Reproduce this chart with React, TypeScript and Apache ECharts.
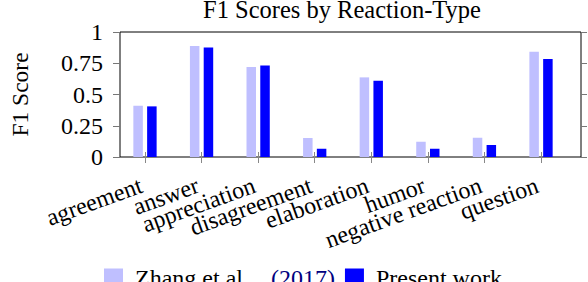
import React, { useEffect, useRef } from "react";
import * as echarts from "echarts";

const categories = [
  "agreement",
  "answer",
  "appreciation",
  "disagreement",
  "elaboration",
  "humor",
  "negative reaction",
  "question",
];
const zhangScores = [0.41, 0.888, 0.72, 0.152, 0.637, 0.122, 0.154, 0.842];
const presentScores = [0.405, 0.877, 0.733, 0.066, 0.61, 0.066, 0.096, 0.784];
const yTicks = [0, 0.25, 0.5, 0.75, 1];

const FONT = "Times New Roman";

export default function App() {
  const ref = useRef<HTMLDivElement>(null);
  useEffect(() => {
    document.body.style.margin = "0";
    if (!ref.current) return;
    const chart = echarts.init(ref.current, null, { renderer: "svg" });
    const frame = { left: 105, top: 32, width: 476, height: 125 };
    const plot = { left: 116.7, top: 32, width: 452.6, height: 125 };
    chart.setOption({
      animation: false,
      textStyle: { fontFamily: FONT },
      title: {
        text: "F1 Scores by Reaction-Type",
        left: 342,
        top: -3,
        padding: 0,
        textAlign: "center",
        textStyle: { fontFamily: FONT, fontSize: 24.5, fontWeight: "normal", color: "#000" },
      },
      legend: {
        left: 104,
        top: 266,
        padding: 0,
        icon: "rect",
        itemWidth: 19,
        itemHeight: 19,
        itemGap: 10,
        data: ["Zhang et al. (2017)", "Present work"],
        formatter: (name: string) =>
          name === "Zhang et al. (2017)" ? "{n|Zhang et al.}{c|(2017)}" : "{n|Present work}",
        textStyle: {
          fontFamily: FONT,
          fontSize: 24,
          color: "#000",
          rich: {
            n: { fontFamily: FONT, fontSize: 24, color: "#000", padding: [0, 0, 0, 7] },
            c: { fontFamily: FONT, fontSize: 24, color: "#000080", padding: [0, 0, 0, 22] },
          },
        },
      },
      grid: [
        { ...frame, show: true, borderColor: "#000", borderWidth: 1, backgroundColor: "transparent" },
        { ...plot },
      ],
      xAxis: [
        { gridIndex: 0, type: "value", show: false, min: 0, max: 1 },
        {
          gridIndex: 1,
          type: "category",
          data: categories,
          boundaryGap: true,
          offset: -5,
          axisLine: { show: false },
          axisTick: { show: true, alignWithLabel: true, length: 11, lineStyle: { color: "#888", width: 1 } },
          axisLabel: {
            rotate: 20,
            margin: 31,
            interval: 0,
            padding: [0, 4, 0, 0],
            fontFamily: FONT,
            fontSize: 24,
            color: "#000",
          },
        },
      ],
      yAxis: [
        {
          gridIndex: 0,
          type: "value",
          min: yTicks[0],
          max: yTicks[yTicks.length - 1],
          interval: 0.25,
          position: "left",
          axisLine: { show: false },
          axisTick: { show: true, length: 7, lineStyle: { color: "#777" } },
          splitLine: { show: false },
          axisLabel: { margin: 17, fontFamily: FONT, fontSize: 24, color: "#000" },
          name: "F1 Score",
          nameLocation: "middle",
          nameGap: 88,
          nameRotate: 90,
          nameTextStyle: { fontFamily: FONT, fontSize: 23.5, color: "#000" },
        },
        {
          gridIndex: 0,
          type: "value",
          min: yTicks[0],
          max: yTicks[yTicks.length - 1],
          interval: 0.25,
          position: "right",
          axisLine: { show: false },
          axisTick: { show: true, length: 6, lineStyle: { color: "#777" } },
          splitLine: { show: false },
          axisLabel: { show: false },
        },
        {
          gridIndex: 1,
          type: "value",
          min: 0,
          max: 1,
          show: false,
        },
      ],
      series: [
        {
          name: "Zhang et al. (2017)",
          type: "bar",
          xAxisIndex: 1,
          yAxisIndex: 2,
          data: zhangScores,
          barWidth: 9.5,
          barGap: "45%",
          itemStyle: { color: "#bfbfff" },
        },
        {
          name: "Present work",
          type: "bar",
          xAxisIndex: 1,
          yAxisIndex: 2,
          data: presentScores,
          barWidth: 9.5,
          barGap: "45%",
          itemStyle: { color: "#0000ff" },
        },
      ],
    });
    return () => chart.dispose();
  }, []);
  return (
    <div
      ref={ref}
      style={{ position: "absolute", left: 0, top: 0, width: 588, height: 282 }}
    />
  );
}
